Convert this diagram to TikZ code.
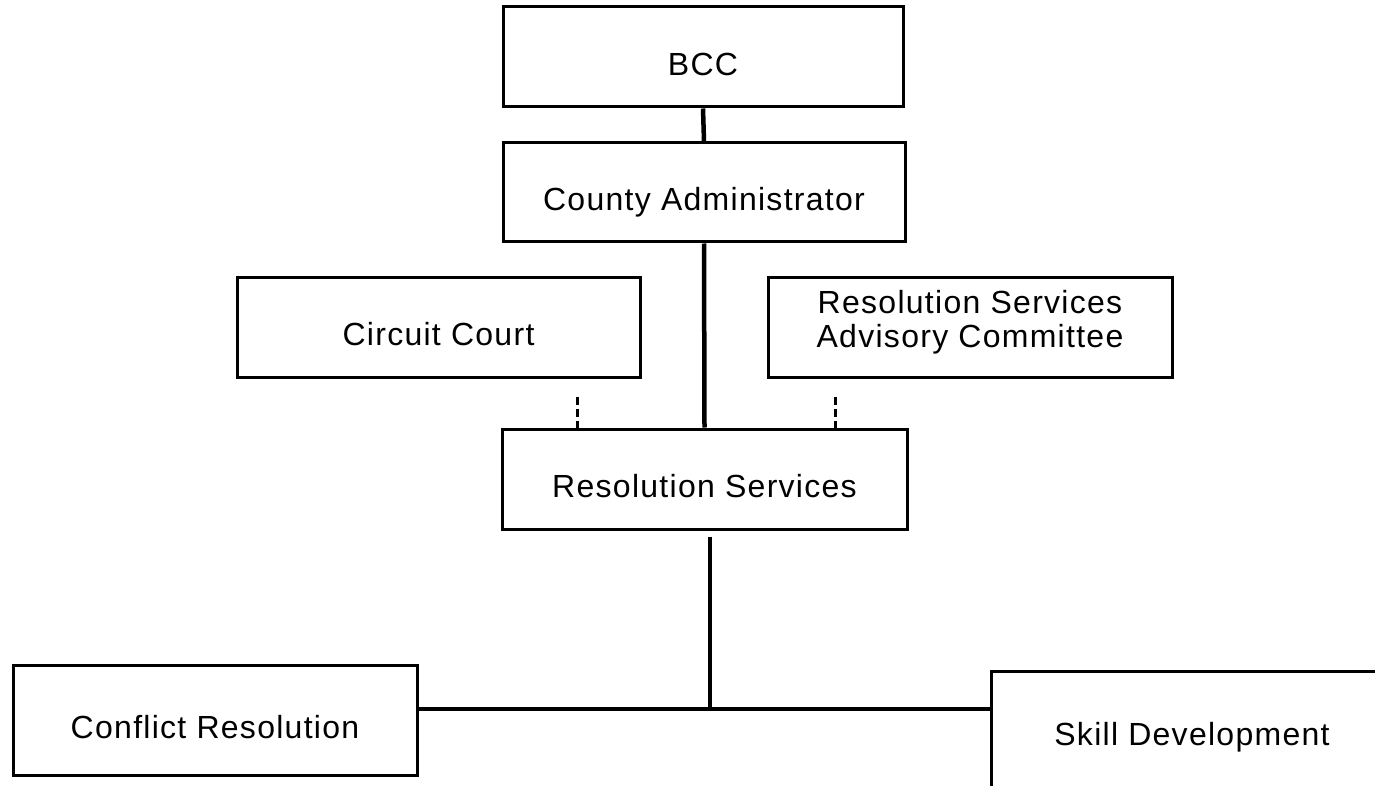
\documentclass[tikz,border=0pt]{standalone}
\usepackage{fontspec}
\newfontfamily\boxfont[LetterSpace=4]{Liberation Sans}
\usetikzlibrary{calc}
\tikzset{
  orgbox/.style={draw=black, line width=3pt, fill=white, rectangle, inner sep=0pt,
    align=center, font=\boxfont\fontsize{32}{33.5}\selectfont,
    text height=37pt, text depth=0pt},
  solidlink/.style={draw=black, line width=4.5pt},
  dashlink/.style={draw=black, line width=3.5pt, dash pattern=on 8pt off 4pt}
}
\begin{document}
\begin{tikzpicture}[x=1pt,y=-1pt]
\clip (0,0) rectangle (1375,786);
\fill[white] (0,0) rectangle (1375,786);
\node[orgbox, minimum width=400pt, minimum height=100pt] (bcc) at (703,57) {BCC};
\node[orgbox, minimum width=402pt, minimum height=99pt] (ca) at (704,192.5) {County Administrator};
\node[orgbox, minimum width=403pt, minimum height=100pt] (cc) at (438.5,327) {Circuit Court};
\node[orgbox, minimum width=404pt, minimum height=100pt, text height=40pt, text depth=0pt] (rsac) at (970,327) {Resolution Services\\Advisory Committee};
\node[orgbox, minimum width=405pt, minimum height=100pt] (rs) at (704.5,479) {Resolution Services};
\node[orgbox, minimum width=404pt, minimum height=110pt] (cr) at (215,720) {Conflict Resolution};
\node[orgbox, minimum width=402pt, minimum height=128pt, text height=20pt] (sd) at (1192,735) {Skill Development};
\coordinate (j) at (710,709);
\draw[solidlink] (bcc.south) -- (ca.north);
\draw[solidlink] (ca.south) -- (rs.north);
\draw[solidlink] ([yshift=-6pt]rs.south -| j) -- (j);
\draw[solidlink] (cr.east |- j) -- (sd.west |- j);
\coordinate (d1b) at ($(rs.north west)+(77,0)$);
\coordinate (d1t) at ($(cc.south)+(0,18)$);
\draw[dashlink] (d1t -| d1b) -- (d1b);
\coordinate (d2b) at ($(rs.north west)+(335,0)$);
\coordinate (d2t) at ($(rsac.south)+(0,18)$);
\draw[dashlink] (d2t -| d2b) -- (d2b);
\end{tikzpicture}
\end{document}
